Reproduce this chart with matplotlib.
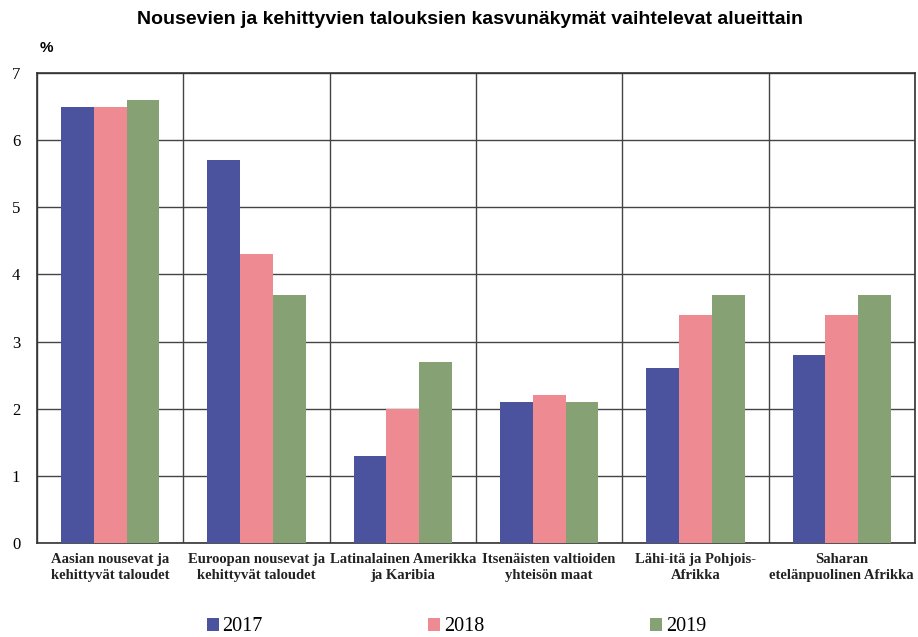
import numpy as np
import matplotlib.pyplot as plt

categories = [
    "Aasian nousevat ja\nkehittyvät taloudet",
    "Euroopan nousevat ja\nkehittyvät taloudet",
    "Latinalainen Amerikka\nja Karibia",
    "Itsenäisten valtioiden\nyhteisön maat",
    "Lähi-itä ja Pohjois-\nAfrikka",
    "Saharan\netelänpuolinen Afrikka",
]
years = ["2017", "2018", "2019"]
v2017 = [6.5, 5.7, 1.3, 2.1, 2.6, 2.8]
v2018 = [6.5, 4.3, 2.0, 2.2, 3.4, 3.4]
v2019 = [6.6, 3.7, 2.7, 2.1, 3.7, 3.7]
yticks = [0, 1, 2, 3, 4, 5, 6, 7]

colors = ["#4b539e", "#ee8a91", "#86a274"]
serif = "Liberation Serif"
sans = "Liberation Sans"

fig = plt.figure(figsize=(9.18, 6.37), dpi=100)
ax = fig.add_axes([0.0403, 0.1476, 0.9564, 0.7378])

x = np.arange(len(categories))
w = 0.224
for i, (vals, c, lab) in enumerate(zip([v2017, v2018, v2019], colors, years)):
    ax.bar(x + (i - 1) * w, vals, width=w, color=c, label=lab, zorder=3)

ax.set_xlim(-0.5, len(categories) - 0.5)
ax.set_ylim(0, 7)
ax.set_yticks(yticks)
ax.set_yticklabels([str(t) for t in yticks], fontfamily=serif, fontsize=12)
ax.set_xticks(x)
ax.set_xticklabels(categories, fontfamily=serif, fontsize=10.5, fontweight="bold", color="#222222",
                   linespacing=1.3)
ax.set_xticks(np.arange(-0.5, len(categories), 1), minor=True)
ax.tick_params(axis="x", which="both", length=0, pad=7)
ax.tick_params(axis="y", length=0, pad=12)

ax.grid(axis="y", color="#444444", linewidth=1, zorder=0)
ax.grid(axis="x", which="minor", color="#444444", linewidth=1, zorder=0)
for s in ax.spines.values():
    s.set_color("#333333")
    s.set_linewidth(1.2)

fig.text(0.512, 0.969, "Nousevien ja kehittyvien talouksien kasvunäkymät vaihtelevat alueittain",
         ha="center", va="center", fontfamily=sans, fontweight="bold", fontsize=14)
fig.text(0.051, 0.924, "%", ha="center", va="center", fontfamily=sans, fontweight="bold", fontsize=11)

handles, labels = ax.get_legend_handles_labels()
fig.legend(handles, labels, loc="center", bbox_to_anchor=(0.497, 0.016), ncol=3, frameon=False,
           prop={"family": serif, "size": 14.5}, handlelength=0.6, handleheight=0.6,
           handletextpad=0.2, columnspacing=8.2)

fig.savefig("out.png", dpi=100)
